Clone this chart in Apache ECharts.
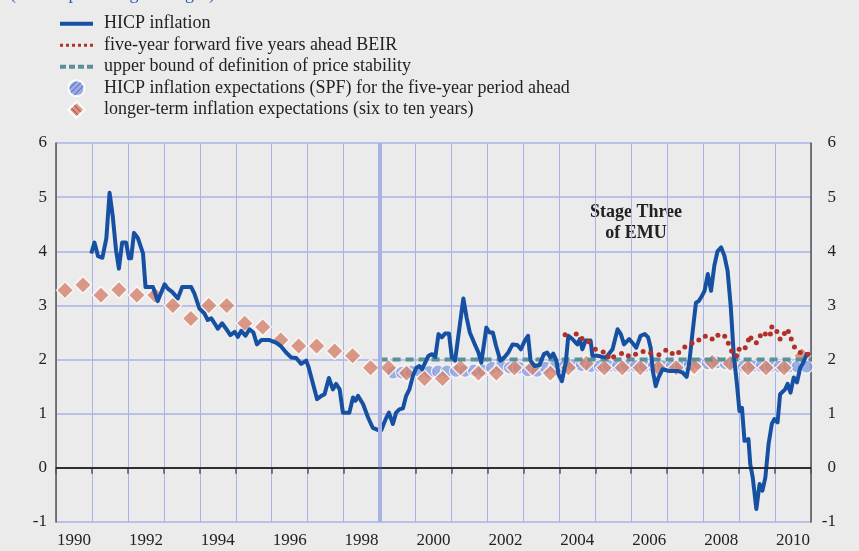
<!DOCTYPE html>
<html>
<head>
<meta charset="utf-8">
<script src="https://cdn.jsdelivr.net/npm/echarts@6/dist/echarts.min.js"></script>
<style>
  html, body { margin: 0; padding: 0; background: #ebebeb; }
  #chart { width: 859px; height: 551px; }
</style>
</head>
<body>
<div id="chart"></div>
<script>
// series names (legend)
const names = [
  'HICP inflation',
  'five-year forward five years ahead BEIR',
  'upper bound of definition of price stability',
  'HICP inflation expectations (SPF) for the five-year period ahead',
  'longer-term inflation expectations (six to ten years)'
]

// HICP inflation (decimal year, % y-o-y)
const hicpDates = [
  1990.98, 1991.07, 1991.17, 1991.29, 1991.40, 1991.49, 1991.58, 1991.67, 1991.75, 1991.84, 1991.95,
  1992.03, 1992.09, 1992.17, 1992.28, 1992.42, 1992.49, 1992.70, 1992.83, 1993.02, 1993.11, 1993.23,
  1993.39, 1993.51, 1993.62, 1993.76, 1993.85, 1993.99, 1994.13, 1994.22, 1994.32, 1994.41, 1994.50,
  1994.62, 1994.73, 1994.85, 1994.97, 1995.06, 1995.15, 1995.27, 1995.38, 1995.49, 1995.59, 1995.71,
  1995.94, 1996.13, 1996.25, 1996.40, 1996.54, 1996.68, 1996.82, 1996.96, 1997.03, 1997.15, 1997.26,
  1997.38, 1997.47, 1997.59, 1997.70, 1997.79, 1997.89, 1997.98, 1998.16, 1998.26, 1998.33, 1998.40,
  1998.54, 1998.68, 1998.81, 1998.95, 1999.05, 1999.17, 1999.26, 1999.37, 1999.46, 1999.55, 1999.65,
  1999.74, 1999.83, 1999.93, 2000.02, 2000.11, 2000.18, 2000.36, 2000.46, 2000.55, 2000.64, 2000.73,
  2000.82, 2000.93, 2001.01, 2001.10, 2001.21, 2001.33, 2001.42, 2001.51, 2001.65, 2001.75, 2001.83,
  2001.97, 2002.06, 2002.15, 2002.24, 2002.36, 2002.47, 2002.58, 2002.70, 2002.83, 2002.93, 2003.04,
  2003.13, 2003.20, 2003.31, 2003.45, 2003.57, 2003.66, 2003.75, 2003.83, 2003.92, 2003.98, 2004.07,
  2004.18, 2004.25, 2004.36, 2004.50, 2004.57, 2004.64, 2004.73, 2004.87, 2004.92, 2005.06, 2005.20,
  2005.30, 2005.48, 2005.62, 2005.71, 2005.80, 2005.94, 2006.03, 2006.14, 2006.26, 2006.38, 2006.47,
  2006.54, 2006.60, 2006.68, 2006.76, 2006.87, 2007.06, 2007.29, 2007.43, 2007.54, 2007.61, 2007.71,
  2007.80, 2007.88, 2007.97, 2008.04, 2008.13, 2008.22, 2008.31, 2008.40, 2008.50, 2008.59, 2008.68,
  2008.77, 2008.85, 2008.94, 2009.01, 2009.08, 2009.15, 2009.26, 2009.31, 2009.38, 2009.48, 2009.57,
  2009.65, 2009.73, 2009.82, 2009.91, 2009.98, 2010.07, 2010.14, 2010.28, 2010.35, 2010.43, 2010.52,
  2010.61, 2010.70, 2010.79, 2010.88, 2010.92
]
const hicpValues = [
  3.96, 4.16, 3.91, 3.88, 4.24, 5.08, 4.64, 4.02, 3.68, 4.16, 4.16,
  3.87, 3.87, 4.34, 4.24, 3.96, 3.34, 3.34, 3.08, 3.39, 3.31, 3.25,
  3.13, 3.34, 3.34, 3.34, 3.22, 2.94, 2.85, 2.73, 2.76, 2.67, 2.57,
  2.67, 2.57, 2.45, 2.51, 2.42, 2.53, 2.44, 2.56, 2.50, 2.28, 2.36,
  2.36, 2.31, 2.25, 2.13, 2.04, 2.03, 1.92, 1.98, 1.85, 1.55, 1.27,
  1.33, 1.36, 1.66, 1.45, 1.55, 1.45, 1.02, 1.02, 1.30, 1.24, 1.33,
  1.18, 0.93, 0.74, 0.70, 0.70, 0.90, 1.02, 0.81, 1.02, 1.08, 1.10,
  1.33, 1.45, 1.70, 1.85, 1.88, 1.82, 2.07, 2.10, 2.05, 2.47, 2.41,
  2.48, 2.48, 2.04, 1.98, 2.53, 3.13, 2.78, 2.50, 2.28, 2.13, 1.94,
  2.59, 2.50, 2.50, 2.25, 1.98, 2.04, 2.13, 2.28, 2.27, 2.19, 2.35,
  2.44, 1.98, 1.88, 1.90, 2.10, 2.13, 2.04, 2.11, 1.98, 1.72, 1.60,
  1.95, 2.44, 2.38, 2.28, 2.38, 2.19, 2.35, 2.35, 2.07, 2.07, 2.05,
  2.04, 2.19, 2.56, 2.47, 2.28, 2.38, 2.31, 2.22, 2.44, 2.47, 2.41,
  2.22, 1.79, 1.51, 1.67, 1.82, 1.79, 1.79, 1.76, 1.68, 1.92, 2.53,
  3.05, 3.08, 3.18, 3.27, 3.58, 3.27, 3.73, 4.00, 4.07, 3.92, 3.64,
  2.96, 2.10, 1.55, 1.05, 1.11, 0.50, 0.53, 0.07, -0.18, -0.76, -0.30,
  -0.42, -0.18, 0.44, 0.81, 0.90, 0.84, 1.36, 1.45, 1.55, 1.39, 1.67,
  1.58, 1.85, 1.95, 2.10, 2.05
]

// five-year forward five years ahead break-even inflation rate
const beirDates = [
  2004.16, 2004.47, 2004.63, 2004.82, 2005.00, 2005.22, 2005.36, 2005.51, 2005.73, 2005.92, 2006.12,
  2006.33, 2006.54, 2006.77, 2006.96, 2007.14, 2007.32, 2007.49, 2007.69, 2007.88, 2008.06, 2008.25,
  2008.41, 2008.60, 2008.70, 2008.79, 2008.93, 2009.00, 2009.17, 2009.26, 2009.33, 2009.48, 2009.59,
  2009.73, 2009.87, 2009.91, 2010.05, 2010.14, 2010.26, 2010.37, 2010.45, 2010.54, 2010.70, 2010.92
]
const beirValues = [
  2.46, 2.47, 2.39, 2.33, 2.19, 2.14, 2.05, 2.05, 2.11, 2.07, 2.10,
  2.15, 2.12, 2.09, 2.17, 2.11, 2.13, 2.23, 2.30, 2.36, 2.43, 2.38,
  2.45, 2.43, 2.30, 2.16, 2.07, 2.19, 2.22, 2.36, 2.40, 2.31, 2.44,
  2.47, 2.47, 2.60, 2.52, 2.38, 2.48, 2.52, 2.38, 2.23, 2.13, 2.10
]

// upper bound of price stability (below 2%) from Stage Three on
const boundDates = [1999, 2011]
const boundValues = [2, 2]

// SPF five-year ahead expectations (quarterly)
const spfDates = [
  1999.375, 1999.625, 1999.875, 2000.125, 2000.375, 2000.625, 2000.875, 2001.125, 2001.375, 2001.625,
  2001.875, 2002.125, 2002.375, 2002.625, 2002.875, 2003.125, 2003.375, 2003.625, 2003.875, 2004.125,
  2004.375, 2004.625, 2004.875, 2005.125, 2005.375, 2005.625, 2005.875, 2006.125, 2006.375, 2006.625,
  2006.875, 2007.125, 2007.375, 2007.625, 2007.875, 2008.125, 2008.375, 2008.625, 2008.875, 2009.125,
  2009.375, 2009.625, 2009.875, 2010.125, 2010.375, 2010.625, 2010.875
]
const spfValues = [
  1.76, 1.76, 1.78, 1.78, 1.77, 1.78, 1.78, 1.79, 1.79, 1.80,
  1.80, 1.85, 1.87, 1.85, 1.85, 1.80, 1.79, 1.85, 1.87, 1.87,
  1.90, 1.90, 1.88, 1.88, 1.88, 1.88, 1.88, 1.88, 1.88, 1.88,
  1.88, 1.88, 1.88, 1.90, 1.93, 1.93, 1.95, 1.93, 1.90, 1.88,
  1.88, 1.88, 1.88, 1.87, 1.87, 1.87, 1.87
]

// longer-term (six to ten years) inflation expectations (half-yearly)
const ltDates = [
  1990.25, 1990.75, 1991.25, 1991.75, 1992.25, 1992.75, 1993.25, 1993.75, 1994.25, 1994.75,
  1995.25, 1995.75, 1996.25, 1996.75, 1997.25, 1997.75, 1998.25, 1998.75, 1999.25, 1999.75,
  2000.25, 2000.75, 2001.25, 2001.75, 2002.25, 2002.75, 2003.25, 2003.75, 2004.25, 2004.75,
  2005.25, 2005.75, 2006.25, 2006.75, 2007.25, 2007.75, 2008.25, 2008.75, 2009.25, 2009.75,
  2010.25, 2010.75
]
const ltValues = [
  3.28, 3.38, 3.19, 3.29, 3.19, 3.19, 3.00, 2.76, 3.00, 3.00,
  2.67, 2.60, 2.36, 2.25, 2.25, 2.16, 2.07, 1.85, 1.85, 1.75,
  1.65, 1.65, 1.85, 1.75, 1.75, 1.85, 1.85, 1.75, 1.85, 1.93,
  1.85, 1.85, 1.85, 1.85, 1.85, 1.87, 1.95, 1.93, 1.85, 1.85,
  1.85, 2.07
]

const yTicks = [-1, 0, 1, 2, 3, 4, 5, 6]

const zip = (xs, ys) => xs.map((x, i) => [x, ys[i]])

const SERIF = 'Liberation Serif'
const BLUE = '#1650a2'
const RED = '#b2302a'
const TEAL = '#5a9199'
const GRIDC = '#a9b3e8'

const chart = echarts.init(document.getElementById('chart'))
chart.setOption({
  animation: false,
  backgroundColor: '#ebebeb',
  grid: { left: 56, right: 48, top: 143, bottom: 29 },
  legend: {
    orient: 'vertical', left: 55, top: 8,
    itemWidth: 33, itemHeight: 16, itemGap: 0,
    textStyle: { fontFamily: SERIF, fontSize: 18, color: '#222', lineHeight: 21.5, padding: [0, 0, 0, 6] },
    data: [
      { name: names[0], icon: 'path://M0,0H33V4H0Z', itemStyle: { color: BLUE, borderWidth: 0 } },
      { name: names[1], icon: 'path://M0,0h3v3h-3z M6,0h3v3h-3z M12,0h3v3h-3z M18,0h3v3h-3z M24,0h3v3h-3z M30,0h3v3h-3z', itemStyle: { color: RED, borderWidth: 0 } },
      { name: names[2], icon: 'path://M0,0h6v4h-6z M9,0h6v4h-6z M18,0h6v4h-6z M27,0h6v4h-6z', itemStyle: { color: TEAL, borderWidth: 0 } },
      { name: names[3], icon: 'path://M7,0A7,7,0,1,1,7,14A7,7,0,1,1,7,0Z' },
      { name: names[4], icon: 'path://M8,0L16,8L8,16L0,8Z' }
    ]
  },
  graphic: [
    {
      type: 'text', left: 10, top: -15,
      style: { text: '(annual percentage changes)', font: '18px "Liberation Serif"', fill: '#2a5db0' }
    },
    {
      type: 'text', x: 636, y: 202,
      style: { text: 'Stage Three\nof EMU', font: 'bold 18px "Liberation Serif"', fill: '#222', lineHeight: 21, align: 'center' }
    }
  ],
  xAxis: {
    type: 'value', min: 1990, max: 2011, interval: 1,
    axisLine: { lineStyle: { color: '#555', width: 1.5 } },
    axisTick: { show: true, length: 6, lineStyle: { color: '#555', width: 1.5 } },
    splitLine: { show: true, lineStyle: { color: GRIDC, width: 1 } },
    axisLabel: {
      margin: 10, align: 'left',
      formatter: v => (v % 2 === 0 && v < 2011) ? '{a|' + v + '}' : '',
      rich: { a: { width: 36, align: 'center', fontFamily: SERIF, fontSize: 17, color: '#222' } }
    }
  },
  yAxis: [
    {
      type: 'value', min: yTicks[0], max: yTicks[yTicks.length - 1], interval: 1, position: 'left',
      axisLine: { show: true, lineStyle: { color: '#555', width: 1.5 } },
      axisTick: { show: false },
      splitLine: { show: true, lineStyle: { color: GRIDC, width: 1.5 } },
      axisLabel: { margin: 9, fontFamily: SERIF, fontSize: 17, color: '#222' }
    },
    {
      type: 'value', min: yTicks[0], max: yTicks[yTicks.length - 1], interval: 1, position: 'right',
      axisLine: { show: true, lineStyle: { color: '#555', width: 1.5 } },
      axisTick: { show: false },
      splitLine: { show: false },
      axisLabel: { margin: 25, align: 'right', fontFamily: SERIF, fontSize: 17, color: '#222' }
    }
  ],
  series: [
    {
      name: names[2], type: 'line', data: zip(boundDates, boundValues),
      symbol: 'none', itemStyle: { color: TEAL },
      lineStyle: { color: TEAL, width: 4, type: [8, 5] },
      markLine: {
        silent: true, symbol: 'none', label: { show: false },
        data: [
          { xAxis: 1999, lineStyle: { color: '#a8b3e3', width: 4, type: 'solid' } },
          { yAxis: 0, lineStyle: { color: '#1a1a1a', width: 1.5, type: 'solid' } }
        ]
      }
    },
    {
      name: names[0], type: 'line', data: zip(hicpDates, hicpValues),
      symbol: 'none', itemStyle: { color: BLUE },
      lineStyle: { color: BLUE, width: 4, join: 'round' }
    },
    {
      name: names[1], type: 'line', data: zip(beirDates, beirValues),
      symbol: 'circle', symbolSize: 5, showAllSymbol: true,
      itemStyle: { color: RED },
      lineStyle: { width: 0, opacity: 0 }
    },
    {
      name: names[3], type: 'scatter', data: zip(spfDates, spfValues),
      symbol: 'circle', symbolSize: 13,
      itemStyle: {
        color: '#8a9de0', borderColor: '#fff', borderWidth: 1.2,
        decal: { symbol: 'rect', symbolSize: 1, dashArrayX: [1, 0], dashArrayY: [1, 3], rotation: -Math.PI / 4, color: '#4a5fbf' }
      }
    },
    {
      name: names[4], type: 'scatter', data: zip(ltDates, ltValues),
      symbol: 'diamond', symbolSize: 17,
      itemStyle: {
        color: '#d5836b', borderColor: '#fff', borderWidth: 1.5,
        decal: { symbol: 'rect', symbolSize: 1, dashArrayX: [1, 0], dashArrayY: [1, 3], rotation: Math.PI / 4, color: '#b23f33' }
      }
    }
  ]
})
</script>
</body>
</html>
